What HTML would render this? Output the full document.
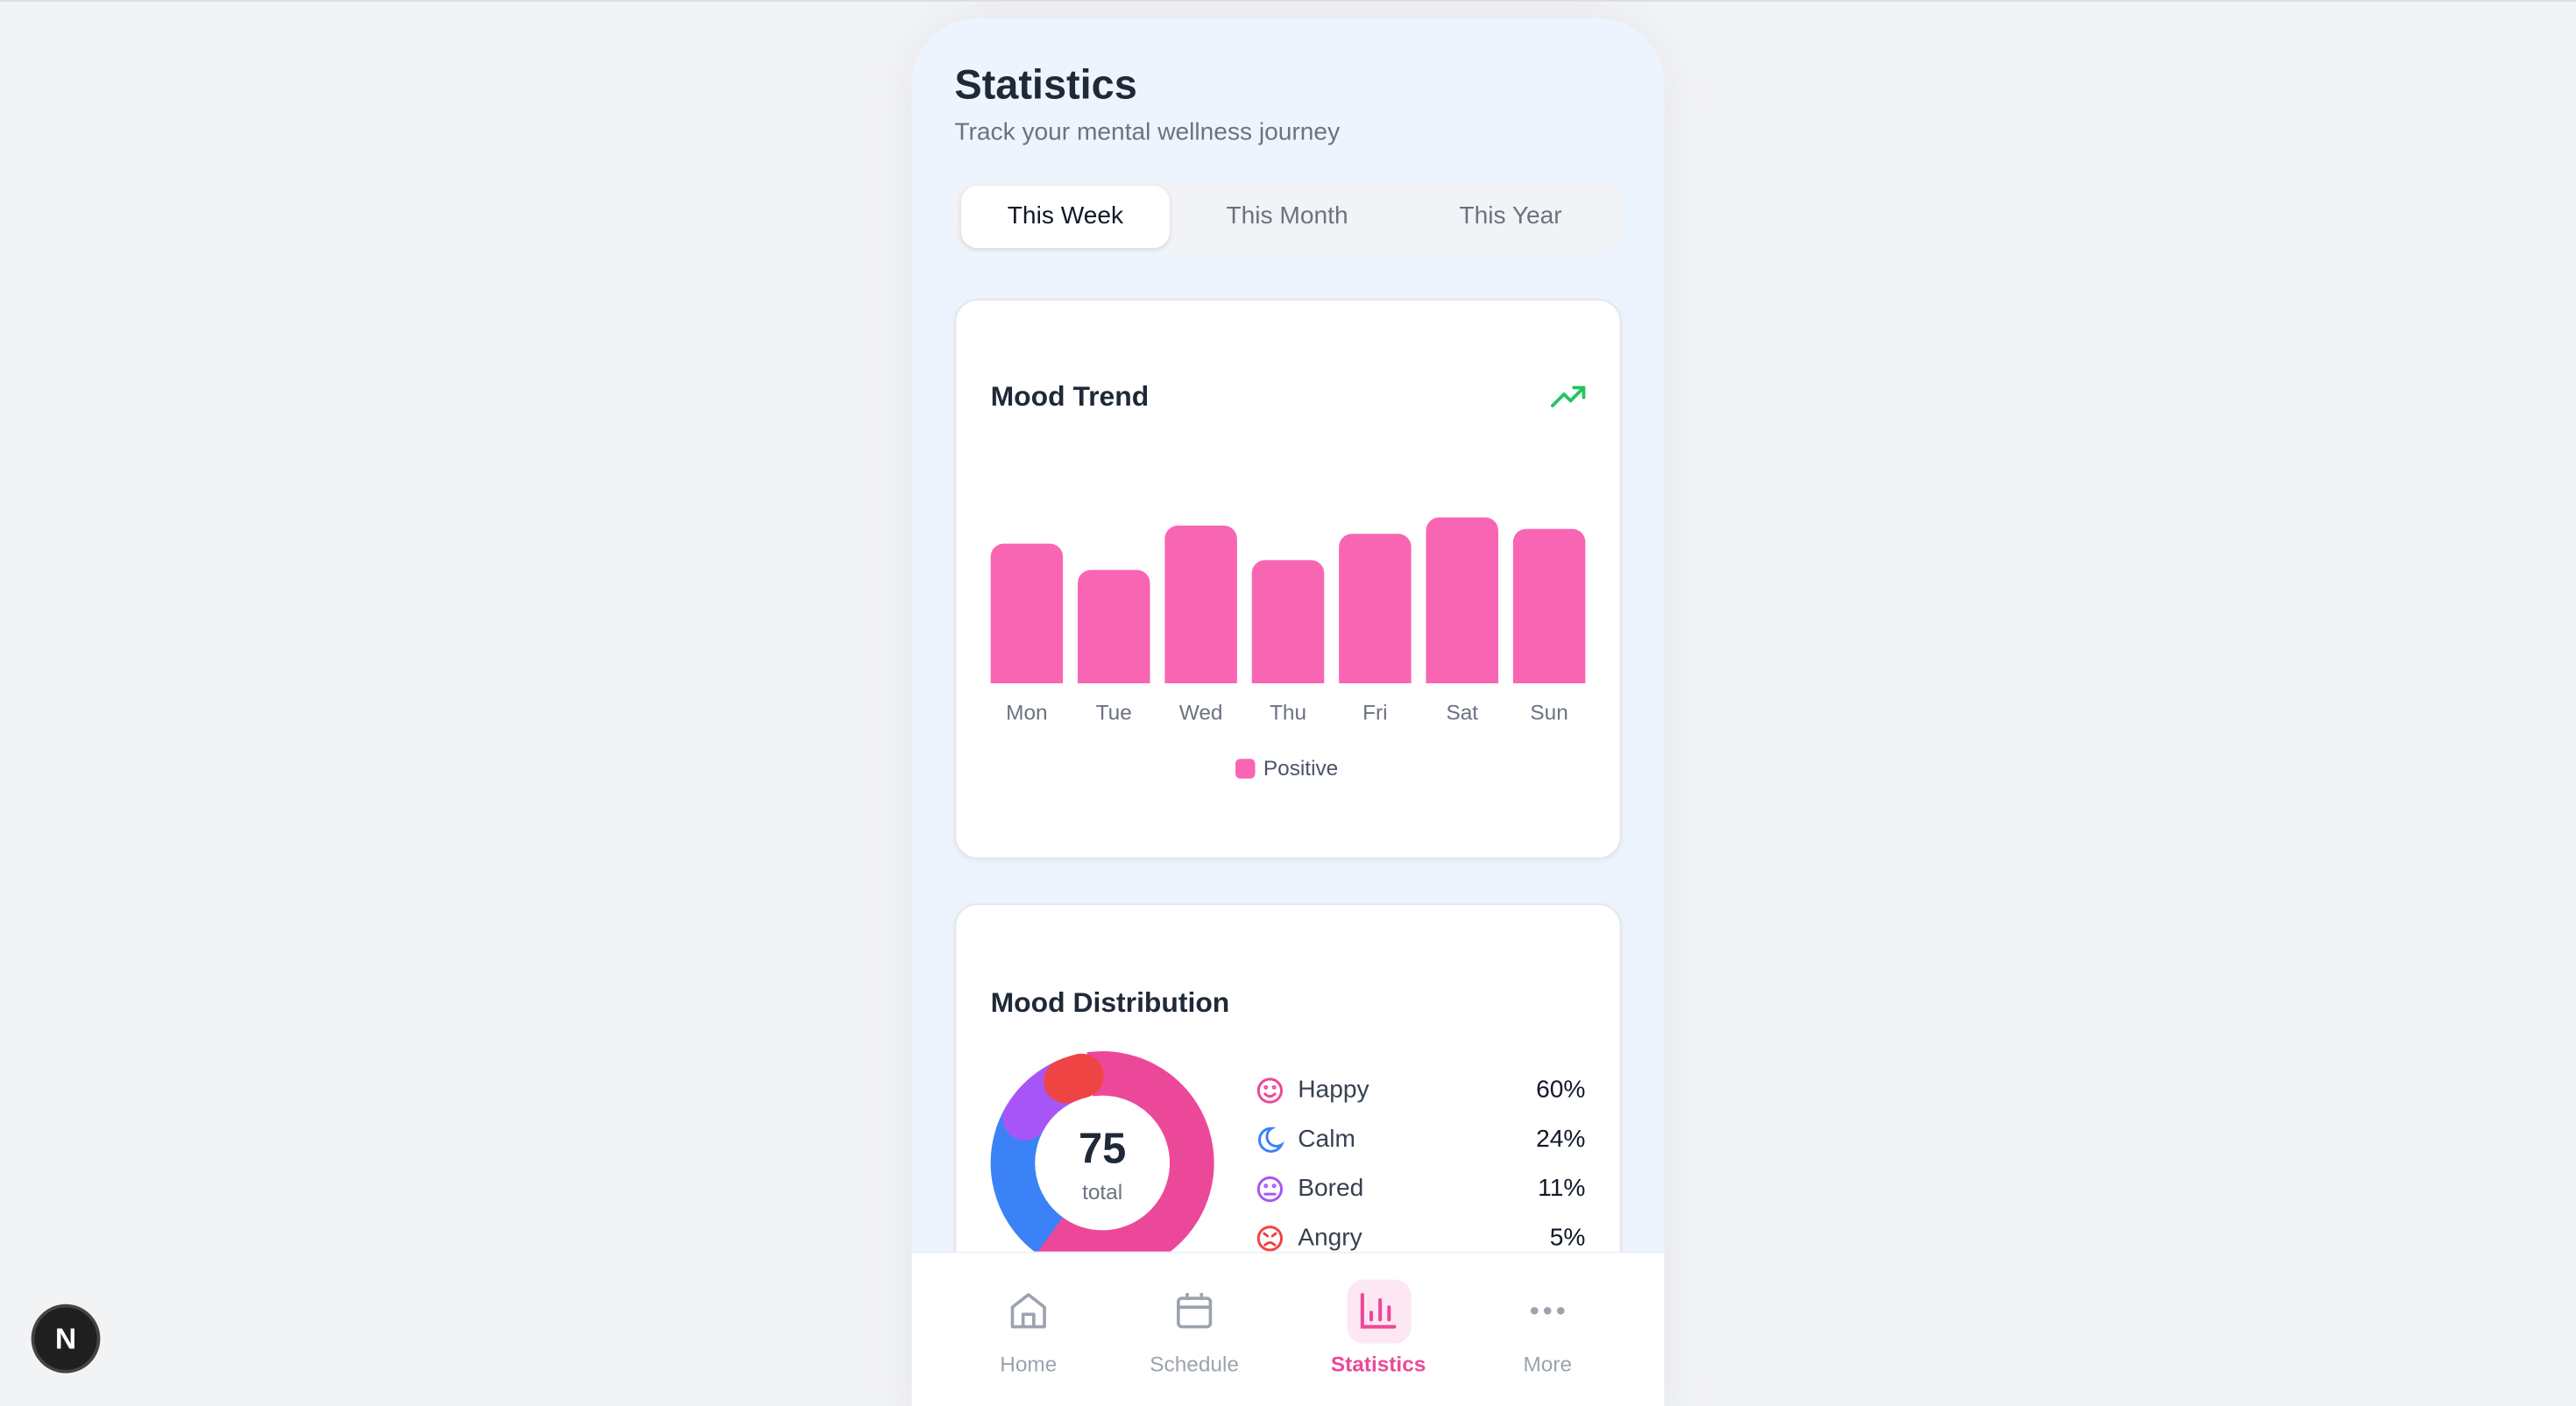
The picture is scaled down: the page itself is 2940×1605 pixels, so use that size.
<!DOCTYPE html>
<html><head><meta charset="utf-8"><style>
*{box-sizing:border-box;margin:0;padding:0}
html,body{width:2940px;height:1604px;overflow:hidden;background:#f2f3f5;font-family:"Liberation Sans",sans-serif}
#w{position:absolute;left:0;top:0;width:1568px;height:856px;transform:scale(1.875);transform-origin:0 0;border-top:1px solid #dcdde0;overflow:hidden}
.a{position:absolute}
.phone{left:555px;top:10px;width:458px;height:860px;background:#eef4fe;border-radius:40px 40px 0 0;box-shadow:0 0 30px rgba(0,0,0,.06);overflow:hidden}
.card{background:#fff;border:1px solid #e3e6ea;border-radius:14px;box-shadow:0 1px 3px rgba(0,0,0,.06)}
.bar{position:absolute;width:44px;bottom:440px;background:#f866b3;border-radius:8px 8px 0 0}
.lb{position:absolute;top:425px;width:44px;text-align:center;font-size:13px;color:#6b7280}
.li{position:absolute;left:790px;font-size:15px;color:#374151}
.pv{position:absolute;right:603px;font-size:15px;color:#111827;text-align:right}
.nv{position:absolute;top:822px;width:90px;text-align:center;font-size:13px;color:#9ca3af}
</style></head><body><div id="w">
<div class="a phone"></div>
<div class="a" style="left:581px;top:37px;font-size:25px;font-weight:bold;color:#1f2937">Statistics</div>
<div class="a" style="left:581px;top:71px;font-size:15px;color:#6b7280">Track your mental wellness journey</div>
<div class="a" style="left:581px;top:109px;width:406px;height:44px;background:#f1f3f6;border-radius:12px"></div>
<div class="a" style="left:585px;top:112px;width:127px;height:38px;background:#fff;border-radius:10px;box-shadow:0 1px 3px rgba(0,0,0,.12)"></div>
<div class="a" style="left:585px;top:122px;width:127px;text-align:center;font-size:15px;color:#111827">This Week</div>
<div class="a" style="left:720px;top:122px;width:127px;text-align:center;font-size:15px;color:#6b7280">This Month</div>
<div class="a" style="left:856px;top:122px;width:127px;text-align:center;font-size:15px;color:#6b7280">This Year</div>
<div class="a card" style="left:581px;top:181px;width:406px;height:341px"></div>
<div class="a" style="left:603px;top:231px;font-size:17px;font-weight:bold;color:#1f2937">Mood Trend</div>
<svg class="a" style="left:944px;top:233px" width="22" height="16" viewBox="0 0 22 16"><path d="M1 13 L8 6 L12 10 L20 2 M14 2 H20 V8" fill="none" stroke="#22c55e" stroke-width="2" stroke-linecap="round" stroke-linejoin="round"/></svg>
<div style="position:absolute;left:0;top:0;width:1568px;height:855px">
<div class="bar" style="left:603px;height:85px"></div>
<div class="bar" style="left:656px;height:69px"></div>
<div class="bar" style="left:709px;height:96px"></div>
<div class="bar" style="left:762px;height:75px"></div>
<div class="bar" style="left:815px;height:91px"></div>
<div class="bar" style="left:868px;height:101px"></div>
<div class="bar" style="left:921px;height:94px"></div>
</div>
<div class="lb" style="left:603px">Mon</div><div class="lb" style="left:656px">Tue</div><div class="lb" style="left:709px">Wed</div><div class="lb" style="left:762px">Thu</div><div class="lb" style="left:815px">Fri</div><div class="lb" style="left:868px">Sat</div><div class="lb" style="left:921px">Sun</div>
<div class="a" style="left:752px;top:461px;width:12px;height:12px;background:#f866b3;border-radius:3px"></div>
<div class="a" style="left:769px;top:459px;font-size:13px;color:#4b5563">Positive</div>
<div class="a card" style="left:581px;top:549px;width:406px;height:300px"></div>
<div class="a" style="left:603px;top:600px;font-size:17px;font-weight:bold;color:#1f2937">Mood Distribution</div>
<svg class="a" style="left:597px;top:633px" width="148" height="148" viewBox="0 0 148 148">
<g transform="rotate(-90 74 74)" fill="none" stroke-width="27">
<circle cx="74" cy="74" r="54.5" stroke="#ec4899" stroke-dasharray="220 400" transform="rotate(-8 74 74)"/>
<circle cx="74" cy="74" r="54.5" stroke="#3b82f6" stroke-dasharray="82 400" transform="rotate(216 74 74)"/>
<circle cx="74" cy="74" r="54.5" stroke="#a855f7" stroke-dasharray="38 400" stroke-linecap="round" transform="rotate(300 74 74)"/>
<circle cx="74" cy="74" r="54.5" stroke="#ef4444" stroke-dasharray="10 400" stroke-linecap="round" transform="rotate(336 74 74)"/>
</g></svg>
<div class="a" style="left:631px;top:667px;width:80px;height:80px;border-radius:50%;background:#fff"></div>
<div class="a" style="left:631px;top:683px;width:80px;text-align:center;font-size:26px;font-weight:bold;color:#1f2937">75</div>
<div class="a" style="left:631px;top:717px;width:80px;text-align:center;font-size:13px;color:#6b7280">total</div>
<svg class="a" style="left:764px;top:654px" width="18" height="110" viewBox="0 0 18 110" fill="none" stroke-width="1.6" stroke-linecap="round">
<circle cx="9" cy="9" r="7" stroke="#ec4899"/><path d="M6 11 Q9 14 12 11" stroke="#ec4899"/><circle cx="6.5" cy="7" r=".5" stroke="#ec4899"/><circle cx="11.5" cy="7" r=".5" stroke="#ec4899"/>
<path d="M10 32 A7 7 0 1 0 16 42 A5.5 5.5 0 0 1 10 32Z" stroke="#3b82f6"/>
<circle cx="9" cy="69" r="7" stroke="#a855f7"/><path d="M6 72 H12" stroke="#a855f7"/><circle cx="6.5" cy="67" r=".5" stroke="#a855f7"/><circle cx="11.5" cy="67" r=".5" stroke="#a855f7"/>
<circle cx="9" cy="99" r="7" stroke="#ef4444"/><path d="M6 103 Q9 100 12 103 M5.5 96 L7.5 97.5 M12.5 96 L10.5 97.5" stroke="#ef4444"/>
</svg>
<div class="li" style="top:654px">Happy</div><div class="pv" style="top:654px">60%</div>
<div class="li" style="top:684px">Calm</div><div class="pv" style="top:684px">24%</div>
<div class="li" style="top:714px">Bored</div><div class="pv" style="top:714px">11%</div>
<div class="li" style="top:744px">Angry</div><div class="pv" style="top:744px">5%</div>
<div class="a" style="left:555px;top:761px;width:458px;height:110px;background:#fff;border-top:1px solid #eef0f3"></div>
<svg class="a" style="left:613px;top:784px" width="26" height="26" viewBox="0 0 24 24" fill="none" stroke="#9ca3af" stroke-width="1.8" stroke-linejoin="round"><path d="M3 10 L12 3 L21 10 V21 H3Z M9 21 V14 H15 V21"/></svg>
<svg class="a" style="left:714px;top:784px" width="26" height="26" viewBox="0 0 24 24" fill="none" stroke="#9ca3af" stroke-width="1.8"><rect x="3" y="5" width="18" height="16" rx="2"/><path d="M3 10 H21 M8 2 V6 M16 2 V6"/></svg>
<div class="a" style="left:820px;top:778px;width:39px;height:39px;border-radius:10px;background:#fce7f3"></div>
<svg class="a" style="left:826px;top:784px" width="26" height="26" viewBox="0 0 24 24" fill="none" stroke="#ec4899" stroke-width="2" stroke-linecap="round"><path d="M3 3 V21 H21 M8 17 V13 M13 17 V6 M18 17 V10"/></svg>
<svg class="a" style="left:929px;top:790px" width="26" height="14" viewBox="0 0 26 14" fill="#9ca3af"><circle cx="5" cy="7" r="2.3"/><circle cx="13" cy="7" r="2.3"/><circle cx="21" cy="7" r="2.3"/></svg>
<div class="nv" style="left:581px">Home</div>
<div class="nv" style="left:682px">Schedule</div>
<div class="nv" style="left:794px;color:#ec4899;font-weight:bold">Statistics</div>
<div class="nv" style="left:897px">More</div>
<div class="a" style="left:19px;top:793px;width:42px;height:42px;border-radius:50%;background:#1f1f1f;border:2px solid #444;color:#fff;font-size:18px;font-weight:bold;text-align:center;line-height:38px">N</div>
</div></body></html>
